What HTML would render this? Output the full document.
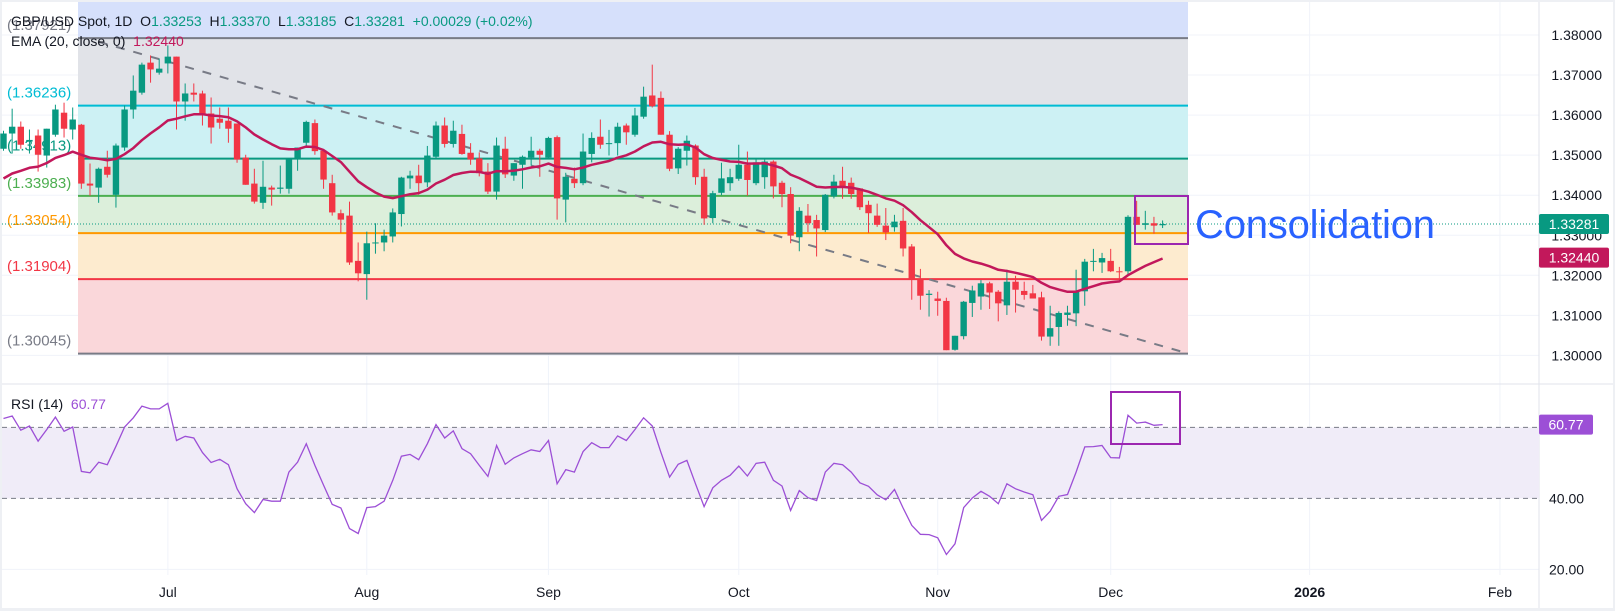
<!DOCTYPE html>
<html><head><meta charset="utf-8"><style>
html,body{margin:0;padding:0;background:#fff;}
svg{display:block;font-family:"Liberation Sans",sans-serif;}
</style></head><body>
<svg id="chart" width="1615" height="611" viewBox="0 0 1615 611" xmlns="http://www.w3.org/2000/svg">
<rect x="0" y="0" width="1615" height="611" fill="#eef0f4"/>
<rect x="2" y="2" width="1611" height="606" fill="#ffffff"/>
<g id="grid"></g>
<g id="fib"></g>
<g id="trend"></g>
<g id="candles"></g>
<g id="ema"></g>
<g id="rsi"></g>
<g id="axes"></g>
<line x1="2" y1="384" x2="1613" y2="384" stroke="#e0e3eb" stroke-width="1"/>
<rect x="1135" y="196" width="53" height="48" fill="none" stroke="#9c27b0" stroke-width="2"/>
<text x="1195" y="238" font-size="40" fill="#2962ff" textLength="240">Consolidation</text>
<rect x="1111" y="392" width="69" height="52" fill="none" stroke="#9c27b0" stroke-width="2"/>
<g>
<text x="11" y="26" font-size="14" fill="#131722">GBP/USD Spot, 1D&#160; O<tspan fill="#089981">1.33253</tspan>&#160; H<tspan fill="#089981">1.33370</tspan>&#160; L<tspan fill="#089981">1.33185</tspan>&#160; C<tspan fill="#089981">1.33281</tspan>&#160; <tspan fill="#089981">+0.00029 (+0.02%)</tspan></text>
<text x="11" y="46" font-size="14" fill="#131722">EMA (20, close, 0)&#160; <tspan fill="#c2185b">1.32440</tspan></text>
<text x="11" y="409" font-size="14" fill="#131722">RSI (14)&#160; <tspan fill="#9c4fd6">60.77</tspan></text>
</g>
</svg>
<script>
const opens=[1.3516,1.3554,1.3571,1.3534,1.3549,1.3499,1.3551,1.3606,1.3564,1.3576,
1.3429,1.3419,1.3471,1.3401,1.3519,1.3614,1.3656,1.3731,1.3706,1.3729,
1.3746,1.3634,1.3656,1.3654,1.3604,1.3591,1.3586,1.3579,1.3494,1.3429,
1.3381,1.3419,1.3416,1.3416,1.3491,1.3531,1.3580,1.3511,1.3430,1.3355,
1.3349,1.3236,1.3203,1.3280,1.3282,1.3297,1.3353,1.3442,1.3449,1.3432,
1.3496,1.3574,1.3528,1.3553,1.3506,1.3492,1.3459,1.3409,1.3516,1.3449,
1.3476,1.3494,1.3511,1.3494,1.3545,1.3389,1.3441,1.3430,1.3503,1.3546,
1.3528,1.3530,1.3574,1.3551,1.3596,1.3649,1.3643,1.3551,1.3467,1.3511,
1.3524,1.3446,1.3343,1.3406,1.3430,1.3441,1.3476,1.3430,1.3445,1.3484,
1.3431,1.3403,1.3295,1.3349,1.3338,1.3313,1.3397,1.3436,1.3431,1.3417,
1.3376,1.3349,1.3324,1.3320,1.3336,1.3272,1.3191,1.3151,1.3142,1.3136,
1.3014,1.3048,1.3131,1.3147,1.3180,1.3159,1.3125,1.3184,1.3161,1.3155,
1.3145,1.3047,1.3071,1.3101,1.3105,1.3160,1.3234,1.3232,1.3236,1.3210,
1.3210,1.3346,1.3326,1.3330,1.3325];
const highs=[1.3561,1.3616,1.3584,1.3564,1.3564,1.3566,1.3626,1.3631,1.3619,1.3578,
1.3479,1.3469,1.3511,1.3529,1.3624,1.3699,1.3731,1.3749,1.3741,1.3774,
1.3746,1.3679,1.3679,1.3661,1.3644,1.3619,1.3619,1.3579,1.3501,1.3466,
1.3486,1.3424,1.3474,1.3491,1.3519,1.3586,1.3589,1.3511,1.3451,1.3364,
1.3384,1.3282,1.3309,1.3330,1.3314,1.3367,1.3446,1.3461,1.3476,1.3523,
1.3584,1.3594,1.3586,1.3576,1.3530,1.3507,1.3480,1.3544,1.3546,1.3480,
1.3499,1.3546,1.3516,1.3546,1.3549,1.3456,1.3469,1.3554,1.3557,1.3589,
1.3563,1.3581,1.3579,1.3618,1.3671,1.3726,1.3659,1.3560,1.3520,1.3549,
1.3527,1.3466,1.3411,1.3481,1.3466,1.3526,1.3509,1.3491,1.3489,1.3487,
1.3436,1.3420,1.3370,1.3378,1.3351,1.3403,1.3451,1.3471,1.3444,1.3417,
1.3386,1.3379,1.3368,1.3351,1.3368,1.3278,1.3216,1.3163,1.3159,1.3144,
1.3049,1.3136,1.3174,1.3188,1.3184,1.3163,1.3214,1.3199,1.3184,1.3176,
1.3159,1.3124,1.3110,1.3124,1.3214,1.3241,1.3266,1.3256,1.3266,1.3221,
1.3350,1.3386,1.3361,1.3346,1.3337];
const lows=[1.3511,1.3504,1.3516,1.3504,1.3459,1.3469,1.3546,1.3544,1.3539,1.3416,
1.3399,1.3381,1.3444,1.3369,1.3511,1.3591,1.3651,1.3681,1.3701,1.3704,
1.3564,1.3586,1.3634,1.3574,1.3529,1.3566,1.3531,1.3481,1.3426,1.3379,
1.3366,1.3374,1.3404,1.3404,1.3461,1.3521,1.3501,1.3416,1.3349,1.3306,
1.3226,1.3185,1.3139,1.3254,1.3260,1.3282,1.3322,1.3416,1.3401,1.3420,
1.3490,1.3519,1.3519,1.3501,1.3476,1.3447,1.3403,1.3389,1.3443,1.3436,
1.3416,1.3474,1.3446,1.3490,1.3339,1.3332,1.3418,1.3425,1.3482,1.3516,
1.3499,1.3499,1.3526,1.3546,1.3591,1.3619,1.3551,1.3460,1.3453,1.3474,
1.3426,1.3326,1.3330,1.3400,1.3411,1.3436,1.3399,1.3425,1.3416,1.3392,
1.3370,1.3280,1.3260,1.3308,1.3247,1.3308,1.3392,1.3391,1.3391,1.3363,
1.3306,1.3321,1.3288,1.3309,1.3247,1.3139,1.3114,1.3097,1.3099,1.3013,
1.3012,1.3040,1.3096,1.3114,1.3116,1.3085,1.3101,1.3107,1.3139,1.3144,
1.3037,1.3024,1.3024,1.3074,1.3073,1.3124,1.3210,1.3206,1.3208,1.3182,
1.3200,1.3326,1.3314,1.3304,1.3318];
const closes=[1.3554,1.3571,1.3526,1.3538,1.3501,1.3566,1.3614,1.3566,1.3589,1.3429,
1.3424,1.3466,1.3451,1.3524,1.3614,1.3661,1.3726,1.3714,1.3716,1.3746,
1.3634,1.3654,1.3651,1.3604,1.3569,1.3581,1.3566,1.3489,1.3426,1.3384,
1.3421,1.3414,1.3419,1.3491,1.3519,1.3583,1.3510,1.3439,1.3357,1.3339,
1.3232,1.3205,1.3280,1.3282,1.3299,1.3357,1.3444,1.3449,1.3430,1.3499,
1.3574,1.3528,1.3561,1.3503,1.3489,1.3455,1.3409,1.3524,1.3452,1.3480,
1.3496,1.3511,1.3501,1.3543,1.3392,1.3446,1.3430,1.3509,1.3543,1.3526,
1.3530,1.3571,1.3557,1.3599,1.3646,1.3622,1.3551,1.3466,1.3516,1.3536,
1.3445,1.3342,1.3405,1.3442,1.3445,1.3476,1.3438,1.3482,1.3484,1.3422,
1.3403,1.3299,1.3361,1.3330,1.3317,1.3401,1.3434,1.3422,1.3403,1.3370,
1.3355,1.3326,1.3307,1.3334,1.3267,1.3191,1.3149,1.3154,1.3136,1.3013,
1.3049,1.3134,1.3162,1.3180,1.3157,1.3130,1.3184,1.3164,1.3151,1.3142,
1.3047,1.3068,1.3106,1.3107,1.3161,1.3234,1.3236,1.3243,1.3210,1.3208,
1.3346,1.3326,1.3330,1.3324,1.3328];
const rsiValues=[62.5,63.2,59.2,60.4,56.1,59.4,62.9,58.9,60.1,47.6,
47.2,50.2,49.5,54.7,60.1,62.7,66.0,65.2,65.2,66.8,
56.3,57.5,57.0,52.9,50.1,51.0,49.5,42.7,38.5,36.0,
39.7,39.2,39.2,47.4,50.2,55.4,49.3,43.7,38.3,37.3,
31.5,30.1,37.4,37.7,39.2,45.1,51.9,52.4,50.9,55.4,
60.8,57.0,59.0,54.0,52.6,49.3,46.2,54.9,49.6,51.4,
52.6,53.7,53.2,56.3,44.1,48.1,47.4,
53.2,55.7,54.3,54.3,57.6,56.3,59.4,62.7,60.4,53.0,
46.0,49.6,50.7,44.1,37.7,43.0,45.1,46.5,49.1,46.3,
49.9,50.2,45.1,43.5,36.6,42.2,40.2,39.4,47.4,49.9,
49.5,47.4,44.4,43.4,41.0,39.6,42.5,37.3,32.4,29.9,
29.8,28.9,24.2,27.2,37.4,40.1,42.0,40.6,38.5,44.1,
42.7,41.8,41.0,33.8,36.4,40.6,41.1,47.4,54.5,54.6,
54.9,51.5,51.4,63.4,61.2,61.5,60.6,60.8];
const emaSeed=1.3430;
const emaPeriod=20;
const fibLevels=[1.37921,1.36236,1.34913,1.33983,1.33054,1.31904,1.30045];
const fibLabels=["(1.37921)","(1.36236)","(1.34913)","(1.33983)","(1.33054)","(1.31904)","(1.30045)"];
const priceTicks=[1.38,1.37,1.36,1.35,1.34,1.33,1.32,1.31,1.30];
const priceTickLabels=["1.38000","1.37000","1.36000","1.35000","1.34000","1.33000","1.32000","1.31000","1.30000"];
const monthIdx=[19,42,63,85,108,128,151,173];
const monthLabels=["Jul","Aug","Sep","Oct","Nov","Dec","2026","Feb"];
const rsiTicks=[40,20];
const rsiTickLabels=["40.00","20.00"];
const lastPrice=1.33281;
const lastEma=1.32440;
const lastRsi=60.77;
const trendStart=[11,1.3783];
const trendEnd=[137,1.30045];

const NS="http://www.w3.org/2000/svg";
const xAt=i=>3.5+8.65*i;
const yP=p=>35+(1.38-p)*4005;
const yR=r=>498.4-(r-40)*3.55;
const PLOT_R=1539, FIB_L=78, FIB_R=1188;
function mk(tag,attrs,parent){const e=document.createElementNS(NS,tag);for(const k in attrs)e.setAttribute(k,attrs[k]);parent.appendChild(e);return e;}
const G=id=>document.getElementById(id);

const grid=G('grid');
priceTicks.forEach(p=>{const l=mk('line',{x1:2,x2:PLOT_R,y1:yP(p),y2:yP(p),stroke:'#f0f3fa','stroke-width':1},grid);

});
monthIdx.forEach(i=>{const l=mk('line',{x1:xAt(i),x2:xAt(i),y1:2,y2:575,stroke:'#f0f3fa','stroke-width':1},grid);

});
{const l=mk('line',{x1:2,x2:PLOT_R,y1:yR(20),y2:yR(20),stroke:'#f0f3fa','stroke-width':1},grid);

}
{const l=mk('line',{x1:PLOT_R,x2:PLOT_R,y1:2,y2:608,stroke:'#e0e3eb','stroke-width':1},grid);

}

const fib=G('fib');
const fibFill=['#d6e0fb','#e1e3e8','#cdf1f4','#d2eae3','#dcefdb','#fdebcf','#fad7da'];
const fibLine=['#787b86','#00bcd4','#089981','#4caf50','#ff9800','#f23645','#787b86'];
{const r=mk('rect',{x:FIB_L,y:2,width:FIB_R-FIB_L,height:yP(fibLevels[0])-2,fill:fibFill[0]},fib);

}
for(let k=0;k<fibLevels.length-1;k++){
 const r=mk('rect',{x:FIB_L,y:yP(fibLevels[k]),width:FIB_R-FIB_L,height:yP(fibLevels[k+1])-yP(fibLevels[k]),fill:fibFill[k+1]},fib);
 
 
}
fibLevels.forEach((p,k)=>{
 const l=mk('line',{x1:FIB_L,x2:FIB_R,y1:yP(p),y2:yP(p),stroke:fibLine[k],'stroke-width':2},fib);
 
 
 const t=mk('text',{x:7,y:yP(p)-8,'font-size':15,fill:fibLine[k]},fib);
 
 
 t.textContent=fibLabels[k];
});

{const l=mk('line',{x1:xAt(trendStart[0]),y1:yP(trendStart[1]),x2:xAt(trendEnd[0]),y2:yP(trendEnd[1]),stroke:'#787b86','stroke-width':2,'stroke-dasharray':'9 9'},G('trend'));

}

{const l=mk('line',{x1:2,x2:PLOT_R,y1:yP(lastPrice),y2:yP(lastPrice),stroke:'#089981','stroke-width':1,'stroke-dasharray':'1 2'},G('trend'));

}

const cg=G('candles');
closes.forEach((c,i)=>{
 const o=opens[i],up=c>=o,col=up?'#089981':'#f23645',x=xAt(i);
 const w=mk('line',{x1:x,x2:x,y1:yP(highs[i]),y2:yP(lows[i]),stroke:col,'stroke-width':1},cg);
 
 
 const top=yP(Math.max(o,c)),h=Math.max(1,Math.abs(yP(o)-yP(c)));
 const b=mk('rect',{x:x-3.2,y:top,width:6.4,height:h,fill:col},cg);
 
 
});

let e=emaSeed;const a=2/(emaPeriod+1);const emaPts=[];
closes.forEach((c,i)=>{e=e+a*(c-e);emaPts.push(xAt(i).toFixed(1)+','+yP(e).toFixed(1));});
{const p=mk('polyline',{points:emaPts.join(' '),fill:'none',stroke:'#c2185b','stroke-width':2.5,'stroke-linejoin':'round'},G('ema'));

}

const rg=G('rsi');
{const r=mk('rect',{x:2,y:yR(60),width:PLOT_R-2,height:yR(40)-yR(60),fill:'#f0ecf8'},rg);

}
[60,40].forEach(v=>{const l=mk('line',{x1:2,x2:PLOT_R,y1:yR(v),y2:yR(v),stroke:'#787b86','stroke-width':1,'stroke-dasharray':'5 4'},rg);

});
{const pts=rsiValues.map((v,i)=>xAt(i).toFixed(1)+','+yR(v).toFixed(1)).join(' ');
const p=mk('polyline',{points:pts,fill:'none',stroke:'#9c4fd6','stroke-width':1.3},rg);

}

const ax=G('axes');
priceTicks.forEach((p,k)=>{const t=mk('text',{x:1602,y:yP(p)+5,'font-size':14,fill:'#131722','text-anchor':'end'},ax);


t.textContent=priceTickLabels[k];});
rsiTicks.forEach((v,k)=>{const t=mk('text',{x:1549,y:yR(v)+5,'font-size':14,fill:'#131722'},ax);


t.textContent=rsiTickLabels[k];});
monthIdx.forEach((i,k)=>{const t=mk('text',{x:xAt(i),y:597,'font-size':14,fill:'#131722','text-anchor':'middle','font-weight':monthLabels[k]==='2026'?'bold':'normal'},ax);


t.textContent=monthLabels[k];});
function badge(val,txt,col,w,y,name){
 const r=mk('rect',{x:PLOT_R,y:y-10,width:w,height:20,rx:2,fill:col},ax);
 
 
 const t=mk('text',{x:PLOT_R+w/2,y:y+5,'font-size':14,fill:'#fff','text-anchor':'middle'},ax);
 
 
 t.textContent=txt;
}
badge(lastPrice,lastPrice.toFixed(5),'#089981',70,yP(lastPrice),'last-price');
badge(lastEma,lastEma.toFixed(5),'#c2185b',70,yP(lastEma),'ema-value');
badge(lastRsi,lastRsi.toFixed(2),'#9c4fd6',54,yR(lastRsi),'rsi-value');
</script>
</body></html>
